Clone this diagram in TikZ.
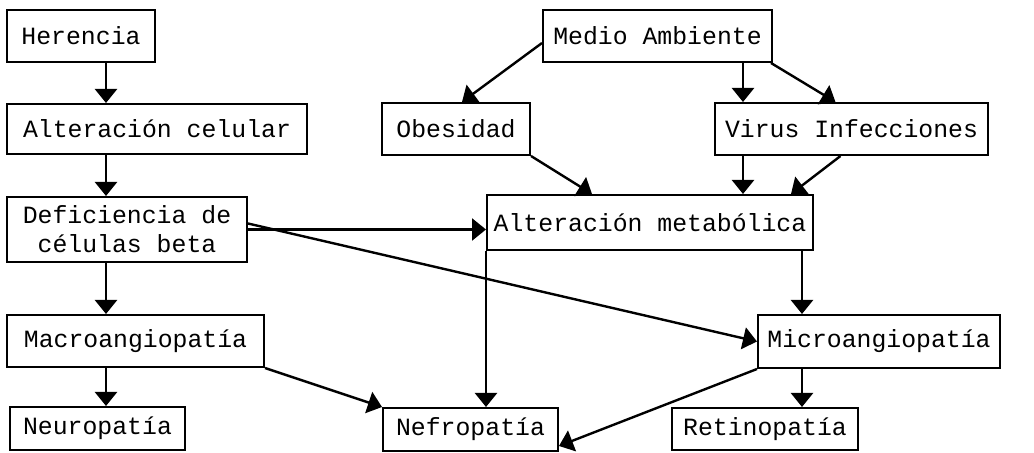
\documentclass[tikz,border=0pt]{standalone}
\usepackage{fontspec}
\setmonofont{Liberation Mono}
\usetikzlibrary{calc,arrows.meta}

\begin{document}
\begin{tikzpicture}[x=0.5pt,y=-0.5pt,
    caja/.style={draw, line width=1pt, inner sep=0pt, align=center,
        font=\ttfamily\fontsize{12.4}{14.5}\selectfont},
    tam/.style 2 args={minimum width=#1*0.5pt, minimum height=#2*0.5pt},
    flecha/.style={line width=1.2pt, -{Triangle[length=7pt,width=11pt]}}]
\useasboundingbox (0,0) rectangle (1034,453);
\node[caja, tam={148}{52}] (herencia) at (81,36) {Herencia};
\node[caja, tam={300}{50}] (altcel) at (157,129) {Alteración celular};
\node[caja, tam={240}{65}] (defic) at (127,229.5) {Deficiencia de\\células beta};
\node[caja, tam={257}{52}] (macro) at (135.5,341) {Macroangiopatía};
\node[caja, tam={175}{43}] (neuro) at (97.5,428.5) {Neuropatía};
\node[caja, tam={175}{43}] (nefro) at (470.5,429.5) {Nefropatía};
\node[caja, tam={186}{42}] (retino) at (765,429) {Retinopatía};
\node[caja, tam={242}{53}] (micro) at (879,341.5) {Microangiopatía};
\node[caja, tam={326}{55}] (altmet) at (650,222.5) {Alteración metabólica};
\node[caja, tam={148}{52}] (obes) at (456,129) {Obesidad};
\node[caja, tam={273}{52}] (virus) at (851.5,129) {Virus Infecciones};
\node[caja, tam={229}{52}] (medio) at (657.5,36) {Medio Ambiente};
\coordinate (colL) at (106,0);
\coordinate (colV) at (743,0);
\coordinate (colR) at (802,0);
\draw[flecha] (herencia.south -| colL) -- (altcel.north -| colL);
\draw[flecha] (altcel.south -| colL) -- (defic.north -| colL);
\draw[flecha] (defic.south -| colL) -- (macro.north -| colL);
\draw[flecha] (macro.south -| colL) -- (neuro.north -| colL);
\draw[flecha] ($(medio.west)+(0,7)$) -- ($(obes.north)+(6,0)$);
\draw[flecha] (medio.south -| colV) -- (virus.north -| colV);
\draw[flecha] ($(medio.south east)+(-2,0)$) -- ($(virus.north)+(-16,0)$);
\draw[flecha] (obes.south east) -- ($(altmet.north west)+(106,0)$);
\draw[flecha] (virus.south -| colV) -- (altmet.north -| colV);
\draw[flecha] ($(virus.south)+(-11,0)$) -- ($(altmet.north east)+(-23,0)$);
\draw[flecha] (defic.east) -- (defic.east -| altmet.west);
\draw[flecha] ($(defic.east)+(0,-6)$) -- (micro.west);
\draw[flecha] (altmet.south west) -- (altmet.south west |- nefro.north);
\draw[flecha] (altmet.south -| colR) -- (micro.north -| colR);
\draw[flecha] (micro.south -| colR) -- (retino.north -| colR);
\draw[flecha] (macro.south east) -- (nefro.north west);
\draw[flecha] (micro.south west) -- ($(nefro.south east)+(0,-6)$);
\end{tikzpicture}
\end{document}
